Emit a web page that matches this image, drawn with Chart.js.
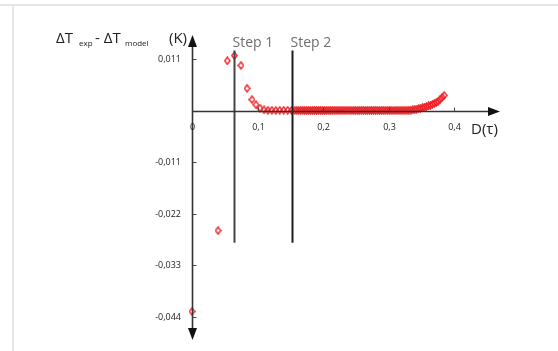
<!DOCTYPE html>
<html>
<head>
<meta charset="utf-8">
<script src="https://cdn.jsdelivr.net/npm/chart.js@4.4.0/dist/chart.umd.min.js"></script>
<style>
  html, body { margin: 0; padding: 0; background: #fff; }
  #wrap { position: relative; width: 558px; height: 351px; overflow: hidden; }
  #topline { position: absolute; left: 0; top: 4px; width: 558px; height: 2px; background: #e6e6e6; }
  #leftline { position: absolute; left: 12px; top: 6px; width: 2px; height: 345px; background: #e6e6e6; }
  canvas { position: absolute; left: 0; top: 0; }
</style>
</head>
<body>
<div id="wrap">
  <div id="topline"></div>
  <div id="leftline"></div>
  <canvas id="chart" width="558" height="351"></canvas>
</div>
<script>
// D(tau) values
const tau = [
  0, 0.0397, 0.0539, 0.0646, 0.0748, 0.084, 0.0916, 0.0977, 0.1038,
  0.110, 0.116, 0.122, 0.128, 0.134, 0.140, 0.146, 0.152,
  0.157, 0.160, 0.163, 0.166, 0.169, 0.172, 0.175, 0.178, 0.181, 0.184,
  0.187, 0.190, 0.193, 0.196, 0.199, 0.202, 0.205, 0.208, 0.211, 0.214,
  0.217, 0.220, 0.223, 0.226, 0.229, 0.232, 0.235, 0.238, 0.241, 0.244,
  0.247, 0.250, 0.253, 0.256, 0.259, 0.262, 0.265, 0.268, 0.271, 0.274,
  0.277, 0.280, 0.283, 0.286, 0.289, 0.292, 0.295, 0.298, 0.301, 0.304,
  0.307, 0.310, 0.313, 0.316, 0.319, 0.322, 0.325, 0.328,
  0.331, 0.334, 0.337, 0.340, 0.343, 0.346, 0.349, 0.352, 0.355, 0.358,
  0.361, 0.364, 0.367, 0.370, 0.373, 0.376, 0.379, 0.382, 0.385
];
// dT_exp - dT_model (K)
const residual = [
  -0.0429, -0.0256, 0.0107, 0.0118, 0.0097, 0.0048, 0.0024, 0.0013, 0.0006,
  0.0002, 0.00012, 0.0001, 0.00008, 0.0001, 0.00012, 0.0001, 0.00009,
  0.0001, 0.00012, 0.00008, 0.0001, 0.00011, 0.00009, 0.0001, 0.00012, 0.00008, 0.0001,
  0.00011, 0.00009, 0.0001, 0.00012, 0.0001, 0.00008, 0.0001, 0.00011, 0.00009, 0.0001,
  0.00012, 0.0001, 0.00008, 0.0001, 0.00011, 0.00009, 0.0001, 0.00012, 0.0001, 0.00008,
  0.0001, 0.00011, 0.00009, 0.0001, 0.00012, 0.0001, 0.00008, 0.0001, 0.00011, 0.00009,
  0.0001, 0.00012, 0.0001, 0.00008, 0.0001, 0.00011, 0.00009, 0.0001, 0.00012, 0.0001,
  0.00008, 0.0001, 0.00011, 0.00009, 0.0001, 0.00012, 0.0001, 0.00011,
  0.00012, 0.00015, 0.0002, 0.00028, 0.00036, 0.00045, 0.00055, 0.00066, 0.00078, 0.0009,
  0.00104, 0.0012, 0.00138, 0.00158, 0.0018, 0.00205, 0.0025, 0.0029, 0.0033
];

const xTicks = [0, 0.1, 0.2, 0.3, 0.4];
const xTickLabels = ["0", "0,1", "0,2", "0,3", "0,4"];
const yTicks = [0.011, -0.011, -0.022, -0.033, -0.044];
const yTickLabels = ["0,011", "-0,011", "-0,022", "-0,033", "-0,044"];

const stepX = [0.0646, 0.152];
const stepLabels = ["Step 1", "Step 2"];
const stepTop = 0.0129;
const stepBottom = -0.0282;

// tall hollow diamond marker
const marker = document.createElement("canvas");
marker.width = 7;
marker.height = 9;
(function () {
  const m = marker.getContext("2d");
  m.strokeStyle = "#ee2024";
  m.lineWidth = 1.4;
  m.beginPath();
  m.moveTo(3.5, 1);
  m.lineTo(6.2, 4.5);
  m.lineTo(3.5, 8);
  m.lineTo(0.8, 4.5);
  m.closePath();
  m.stroke();
})();

const axesPlugin = {
  id: "axesPlugin",
  afterDatasetsDraw(chart) {
    const ctx = chart.ctx;
    const xs = chart.scales.x;
    const ys = chart.scales.y;
    const x0 = Math.round(xs.getPixelForValue(0)) + 0.5;
    const y0 = Math.round(ys.getPixelForValue(0)) + 0.5;
    ctx.save();

    // step lines
    stepX.forEach((v, i) => {
      const px = Math.round(xs.getPixelForValue(v)) + 0.5;
      ctx.strokeStyle = i === 0 ? "#444" : "#1c1c1c";
      ctx.lineWidth = 2;
      ctx.beginPath();
      ctx.moveTo(px, ys.getPixelForValue(stepTop));
      ctx.lineTo(px, ys.getPixelForValue(stepBottom));
      ctx.stroke();
      ctx.fillStyle = "#6e6e6e";
      ctx.font = "14px 'Open Sans'";
      ctx.textAlign = "left";
      ctx.textBaseline = "alphabetic";
      ctx.fillText(stepLabels[i], px - 2, 47);
    });

    // axes
    ctx.strokeStyle = "#333";
    ctx.fillStyle = "#111";
    ctx.lineWidth = 1.6;
    ctx.beginPath();
    ctx.moveTo(x0, 45);
    ctx.lineTo(x0, 329);
    ctx.moveTo(x0, y0);
    ctx.lineTo(489, y0);
    ctx.stroke();
    // arrow heads
    ctx.beginPath();
    ctx.moveTo(x0, 35);
    ctx.lineTo(x0 - 4.5, 47);
    ctx.lineTo(x0 + 4.5, 47);
    ctx.closePath();
    ctx.fill();
    ctx.beginPath();
    ctx.moveTo(x0, 340);
    ctx.lineTo(x0 - 4.5, 328);
    ctx.lineTo(x0 + 4.5, 328);
    ctx.closePath();
    ctx.fill();
    ctx.beginPath();
    ctx.moveTo(500, y0);
    ctx.lineTo(488, y0 - 4.5);
    ctx.lineTo(488, y0 + 4.5);
    ctx.closePath();
    ctx.fill();

    // ticks and labels
    ctx.lineWidth = 1;
    ctx.strokeStyle = "#444";
    ctx.fillStyle = "#222";
    ctx.font = "9px 'Open Sans'";
    ctx.textBaseline = "middle";
    ctx.textAlign = "center";
    xTicks.forEach((v, i) => {
      const px = Math.round(xs.getPixelForValue(v)) + 0.5;
      if (v !== 0) {
        ctx.beginPath();
        ctx.moveTo(px, y0 - 4);
        ctx.lineTo(px, y0);
        ctx.stroke();
      }
      ctx.fillText(xTickLabels[i], px, 127);
    });
    ctx.textAlign = "right";
    yTicks.forEach((v, i) => {
      const py = Math.round(ys.getPixelForValue(v)) + 0.5;
      ctx.beginPath();
      ctx.moveTo(x0, py);
      ctx.lineTo(x0 + 4, py);
      ctx.stroke();
      ctx.fillText(yTickLabels[i], 181, py);
    });

    // axis titles
    ctx.fillStyle = "#222";
    ctx.textAlign = "left";
    ctx.textBaseline = "alphabetic";
    ctx.font = "15px 'Open Sans'";
    ctx.fillText("\u0394T", 56, 43);
    ctx.fillText("- \u0394T", 95, 43);
    ctx.fillText("(K)", 169, 43);
    ctx.font = "8px 'Open Sans'";
    ctx.fillText("exp", 79, 46);
    ctx.fillText("model", 125, 46);
    ctx.font = "15px 'Open Sans'";
    ctx.fillText("D(\u03c4)", 471, 134);
    ctx.restore();
  }
};

new Chart(document.getElementById("chart"), {
  type: "scatter",
  data: {
    datasets: [{
      data: tau.map((t, i) => ({ x: t, y: residual[i] })),
      pointStyle: marker,
      pointRadius: 4,
      showLine: false,
      clip: false
    }]
  },
  options: {
    responsive: false,
    animation: false,
    devicePixelRatio: 1,
    layout: { padding: { left: 192, right: 104, top: 50, bottom: 25 } },
    plugins: { legend: { display: false }, tooltip: { enabled: false } },
    scales: {
      x: { type: "linear", display: false, min: 0, max: 0.4 },
      y: { type: "linear", display: false, min: -0.046, max: 0.013 }
    }
  },
  plugins: [axesPlugin]
});
</script>
</body>
</html>
